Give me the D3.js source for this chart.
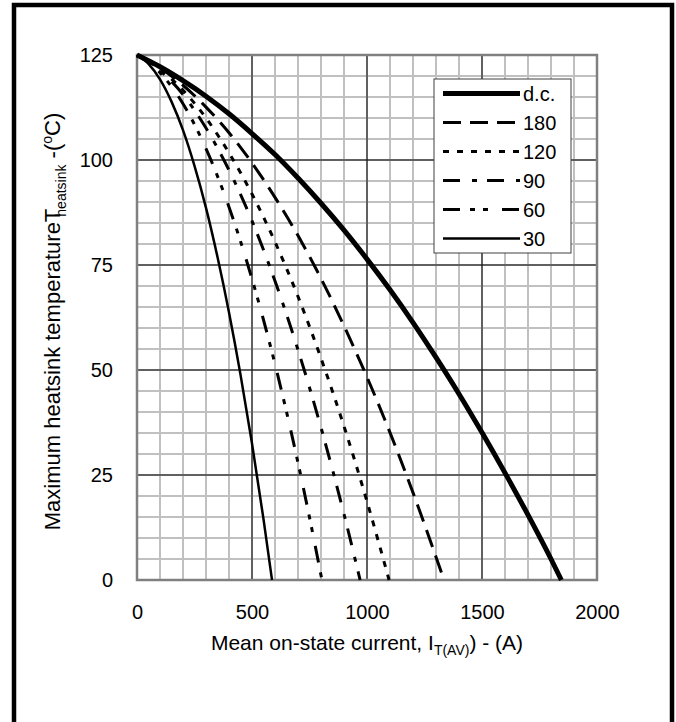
<!DOCTYPE html>
<html>
<head>
<meta charset="utf-8">
<script src="https://cdn.jsdelivr.net/npm/d3@7/dist/d3.min.js"></script>
<style>
  body { margin: 0; background: #fff; }
  svg text { font-family: "Liberation Sans", Arial, sans-serif; fill: #000; }
</style>
</head>
<body>
<script>
// values: [current A, heatsink temp degC]
const seriesNames = ["d.c.", "180", "120", "90", "60", "30"];

const curveDC = [[0,125],[100,122.2],[200,118.9],[300,115.2],[400,111],[500,106.3],[600,101.3],
  [700,95.7],[800,89.7],[900,83.3],[1000,76.4],[1100,69.1],[1200,61.3],[1300,53],[1400,44.3],
  [1500,35.1],[1600,25.5],[1700,15.5],[1800,5],[1845,0]];
const curve180 = [[0,125],[100,121.9],[200,117.8],[300,112.6],[400,106.5],[500,99.3],[600,91.1],
  [700,82],[800,71.8],[900,60.5],[1000,48.3],[1100,35.1],[1200,20.8],[1300,5.5],[1335,0]];
const curve120 = [[0,125],[100,121.6],[200,116.6],[300,110],[400,101.7],[500,91.9],[600,80.5],
  [700,67.5],[800,52.8],[900,36.6],[1000,18.7],[1096,0]];
const curve90 = [[0,125],[100,121.3],[200,115.6],[300,107.6],[400,97.6],[500,85.5],[600,71.2],
  [700,54.8],[800,36.3],[900,15.7],[970,0]];
const curve60 = [[0,125],[100,120.8],[200,113.4],[300,102.7],[400,88.8],[500,71.7],[600,51.4],
  [700,27.9],[750,14.9],[804,0]];
const curve30 = [[0,125],[50,122.9],[100,119.2],[150,113.9],[200,107.1],[250,98.6],[300,88.6],
  [350,76.9],[400,63.7],[450,48.9],[500,32.5],[550,14.5],[587,0]];

const xTicks = [0, 500, 1000, 1500, 2000];
const yTicks = [0, 25, 50, 75, 100, 125];

function main(){
    const width = 676;
    const height = 722;

    const svg = d3.select("body").append("svg")
        .attr("width", width)
        .attr("height", height);

    // outer frame
    svg.append("rect")
        .attr("x", 14).attr("y", 5)
        .attr("width", 658).attr("height", 740)
        .attr("fill", "none")
        .attr("stroke", "#000")
        .attr("stroke-width", 4.5);

    const x = d3.scaleLinear().domain([0, 2000]).range([137, 597]);
    const y = d3.scaleLinear().domain([0, 125]).range([580, 55]);

    const grid = svg.append("g");
    // minor grid
    grid.selectAll(".vminor")
        .data(d3.range(100, 2000, 100))
        .enter().append("line")
        .attr("x1", d => x(d)).attr("x2", d => x(d))
        .attr("y1", y(0)).attr("y2", y(125))
        .attr("stroke", "#c0c0c0").attr("stroke-width", 2);
    grid.selectAll(".hminor")
        .data(d3.range(5, 125, 5))
        .enter().append("line")
        .attr("y1", d => y(d)).attr("y2", d => y(d))
        .attr("x1", x(0)).attr("x2", x(2000))
        .attr("stroke", "#c0c0c0").attr("stroke-width", 2);
    // major grid
    grid.selectAll(".vmajor")
        .data(xTicks.slice(1, -1))
        .enter().append("line")
        .attr("x1", d => x(d)).attr("x2", d => x(d))
        .attr("y1", y(0)).attr("y2", y(125))
        .attr("stroke", "#000").attr("stroke-width", 1);
    grid.selectAll(".hmajor")
        .data(yTicks.slice(1, -1))
        .enter().append("line")
        .attr("y1", d => y(d)).attr("y2", d => y(d))
        .attr("x1", x(0)).attr("x2", x(2000))
        .attr("stroke", "#000").attr("stroke-width", 1);

    svg.append("rect")
        .attr("x", x(0)).attr("y", y(125))
        .attr("width", x(2000) - x(0)).attr("height", y(0) - y(125))
        .attr("fill", "none")
        .attr("stroke", "#808080")
        .attr("stroke-width", 2.5);

    // axes (labels only)
    const xAxis = svg.append("g")
        .attr("transform", "translate(0," + y(0) + ")")
        .call(d3.axisBottom(x).tickValues(xTicks).tickSize(0).tickPadding(25).tickFormat(d3.format("d")));
    const yAxis = svg.append("g")
        .attr("transform", "translate(" + x(0) + ",0)")
        .call(d3.axisLeft(y).tickValues(yTicks).tickSize(0).tickPadding(24).tickFormat(d3.format("d")));
    [xAxis, yAxis].forEach(a => {
        a.select(".domain").remove();
        a.selectAll("text").style("font-size", "20px").attr("font-family", null);
    });

    const styles = {
        "d.c.": {w: 5, dash: null},
        "180": {w: 3, dash: "18,9"},
        "120": {w: 3, dash: "6,8"},
        "90":  {w: 3, dash: "17,12,5,10"},
        "60":  {w: 3, dash: "17,10,5,8,5,14"},
        "30":  {w: 2.5, dash: null}
    };
    const curves = [curveDC, curve180, curve120, curve90, curve60, curve30];

    const line = d3.line()
        .x(d => x(d[0]))
        .y(d => y(d[1]))
        .curve(d3.curveMonotoneX);

    svg.append("g").selectAll("path")
        .data(curves)
        .enter().append("path")
        .attr("d", line)
        .attr("fill", "none")
        .attr("stroke", "#000")
        .attr("stroke-width", (d, i) => styles[seriesNames[i]].w)
        .attr("stroke-dasharray", (d, i) => styles[seriesNames[i]].dash);

    // legend
    const lg = svg.append("g");
    lg.append("rect")
        .attr("x", 434).attr("y", 79)
        .attr("width", 137).attr("height", 174)
        .attr("fill", "#fff")
        .attr("stroke", "#404040")
        .attr("stroke-width", 1);
    const rows = lg.selectAll(".row")
        .data(seriesNames)
        .enter().append("g")
        .attr("transform", (d, i) => "translate(0," + (93.5 + i * 29) + ")");
    rows.append("line")
        .attr("x1", 443).attr("x2", 520)
        .attr("stroke", "#000")
        .attr("stroke-width", d => styles[d].w)
        .attr("stroke-dasharray", d => styles[d].dash);
    rows.append("text")
        .attr("x", 523)
        .attr("dy", "0.35em")
        .style("font-size", "20px")
        .text(d => d);

    // axis titles
    const xt = svg.append("text")
        .attr("x", (x(0) + x(2000)) / 2)
        .attr("y", 650)
        .attr("text-anchor", "middle")
        .style("font-size", "21px");
    xt.append("tspan").text("Mean on-state current, I");
    xt.append("tspan").attr("dy", 5).style("font-size", "14px").text("T(AV)");
    xt.append("tspan").attr("dy", -5).text(") - (A)");

    const yt = svg.append("text")
        .attr("transform", "translate(60," + ((y(0) + y(125)) / 2 + 4) + ") rotate(-90)")
        .attr("text-anchor", "middle")
        .style("font-size", "22px");
    yt.append("tspan").text("Maximum heatsink temperatureT");
    yt.append("tspan").attr("dx", -8).attr("dy", 6).style("font-size", "14px").text("heatsink");
    yt.append("tspan").attr("dy", -6).text(" -(");
    yt.append("tspan").attr("dy", -8).style("font-size", "14px").text("o");
    yt.append("tspan").attr("dy", 8).text("C)");
}

main();
</script>
</body>
</html>
